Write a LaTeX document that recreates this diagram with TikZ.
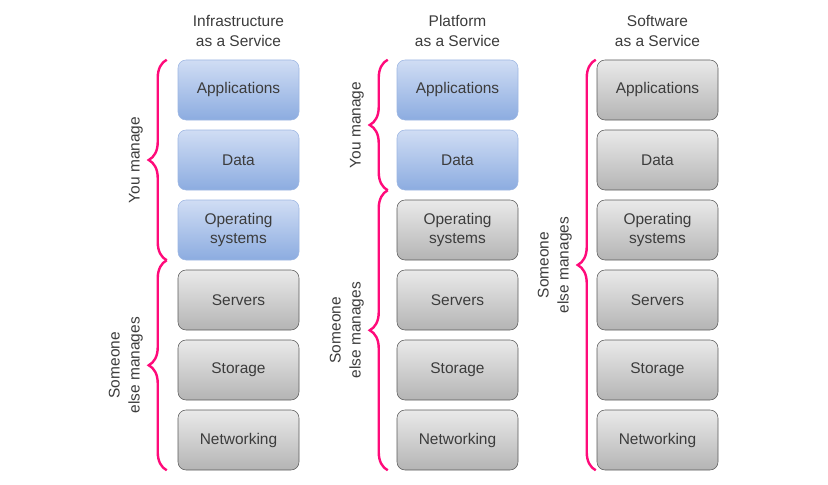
\documentclass[tikz,border=0pt]{standalone}
\usepackage{fontspec}
\setmainfont{Liberation Sans}
\usetikzlibrary{positioning,decorations.pathreplacing}

\definecolor{txtgray}{HTML}{3C3C3C}
\definecolor{bluetop}{HTML}{D0DDF4}
\definecolor{bluebot}{HTML}{8CACE0}
\definecolor{bluedge}{HTML}{9DB6E2}
\definecolor{graytop}{HTML}{EAEAEA}
\definecolor{graybot}{HTML}{B4B4B4}
\definecolor{grayedge}{HTML}{5A5A5A}
\definecolor{bracepink}{HTML}{FF0A7A}

\begin{document}
\begin{tikzpicture}[x=0.75pt, y=-0.75pt,
	layer/.style={rectangle, rounded corners=6pt, minimum width=90.75pt, minimum height=45pt, inner sep=0pt, align=center, text=txtgray, font=\fontsize{11.6}{14.5}\selectfont},
	ours/.style={layer, draw=bluedge, top color=bluetop, bottom color=bluebot},
	theirs/.style={layer, draw=grayedge, top color=graytop, bottom color=graybot},
	coltitle/.style={align=center, text=txtgray, font=\fontsize{11.6}{15}\selectfont},
	bracket/.style={draw=bracepink, line width=1.8pt, decorate, decoration={brace, amplitude=13.5pt}},
	who/.style={rotate=90, anchor=south, inner sep=0pt, align=center, text=txtgray, font=\fontsize{11.6}{15}\selectfont}]
	\useasboundingbox (0, 0) rectangle (828, 485);

	\draw (238.5, 90) node [ours] (iapp) {Applications};
	\draw (238.5, 160) node [ours] (idata) {Data};
	\draw (238.5, 230) node [ours] (ios) {Operating\\systems};
	\draw (238.5, 300) node [theirs] (iserv) {Servers};
	\draw (238.5, 370) node [theirs] (istor) {Storage};
	\draw (238.5, 440) node [theirs] (inet) {Networking};

	\draw (457.5, 90) node [ours] (papp) {Applications};
	\draw (457.5, 160) node [ours] (pdata) {Data};
	\draw (457.5, 230) node [theirs] (pos) {Operating\\systems};
	\draw (457.5, 300) node [theirs] (pserv) {Servers};
	\draw (457.5, 370) node [theirs] (pstor) {Storage};
	\draw (457.5, 440) node [theirs] (pnet) {Networking};

	\draw (657.5, 90) node [theirs] (sapp) {Applications};
	\draw (657.5, 160) node [theirs] (sdata) {Data};
	\draw (657.5, 230) node [theirs] (sos) {Operating\\systems};
	\draw (657.5, 300) node [theirs] (sserv) {Servers};
	\draw (657.5, 370) node [theirs] (sstor) {Storage};
	\draw (657.5, 440) node [theirs] (snet) {Networking};

	\node [coltitle, above=6.5pt of iapp] (iaas) {Infrastructure\\as a Service};
	\node [coltitle, above=6.5pt of papp] (paas) {Platform\\as a Service};
	\node [coltitle, above=6.5pt of sapp] (saas) {Software\\as a Service};

	\draw [bracket] ([xshift=-8.25pt]ios.south west) -- node [midway, xshift=-17pt, who] (iyou) {You manage} ([xshift=-8.25pt]iapp.north west);
	\draw [bracket] ([xshift=-8.25pt]inet.south west) -- node [midway, xshift=-17pt, who] (iother) {Someone\\else manages} ([xshift=-8.25pt]ios.south west);
	\draw [bracket] ([xshift=-6.75pt]pdata.south west) -- node [midway, xshift=-17pt, who] (pyou) {You manage} ([xshift=-6.75pt]papp.north west);
	\draw [bracket] ([xshift=-6.75pt]pnet.south west) -- node [midway, xshift=-17pt, who] (pother) {Someone\\else manages} ([xshift=-6.75pt]pdata.south west);
	\draw [bracket] ([xshift=-0.75pt]snet.south west) -- node [midway, xshift=-17pt, who] (sother) {Someone\\else manages} ([xshift=-0.75pt]sapp.north west);
\end{tikzpicture}
\end{document}
